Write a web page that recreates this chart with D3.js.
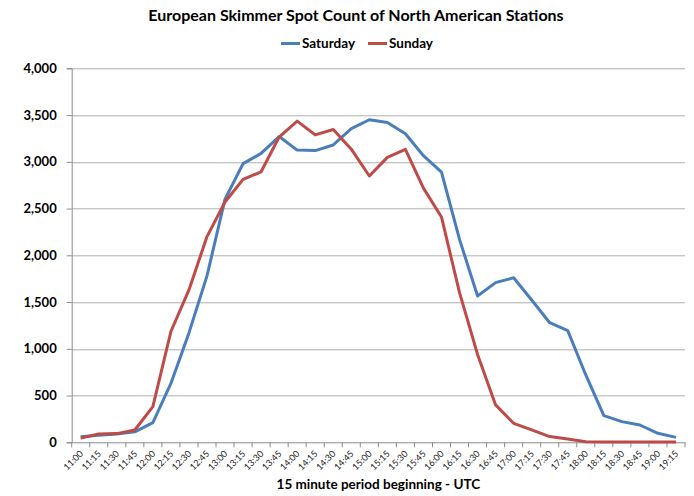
<!DOCTYPE html>
<html>
<head>
<meta charset="utf-8">
<script src="https://cdn.jsdelivr.net/npm/d3@7"></script>
<style>
  body { margin: 0; background: #fff; }
  svg { font-family: Lato, "Open Sans", sans-serif; }
</style>
</head>
<body>
<svg id="chart" width="694" height="496"></svg>
<script>
var times = ["11:00","11:15","11:30","11:45","12:00","12:15","12:30","12:45",
             "13:00","13:15","13:30","13:45","14:00","14:15","14:30","14:45",
             "15:00","15:15","15:30","15:45","16:00","16:15","16:30","16:45",
             "17:00","17:15","17:30","17:45","18:00","18:15","18:30","18:45",
             "19:00","19:15"];
var saturday = [60,75,90,112,210,630,1170,1780,2600,2980,3090,3270,3125,3120,3180,3355,
                3450,3420,3300,3065,2890,2170,1565,1708,1760,1522,1279,1194,720,285,
                221,185,96,53];
var sunday = [45,89,93,132,381,1185,1630,2200,2570,2812,2893,3265,3435,3288,3345,3135,
              2848,3047,3133,2718,2410,1600,940,400,203,132,61,36,7,4,
              4,4,3,2];
var yTicks = [0,500,1000,1500,2000,2500,3000,3500,4000];
var seriesNames = ["Saturday","Sunday"];
var colors = ["#4a7ebb","#be4b48"];

function chart() {
  var svg = d3.select("#chart"),
      margin = {top: 68.3, right: 9, bottom: 53.7, left: 71.7},
      width = svg.attr("width") - margin.left - margin.right,
      height = svg.attr("height") - margin.top - margin.bottom,
      g = svg.append("g").attr("transform", "translate(" + margin.left + "," + margin.top + ")");

  var x = d3.scaleBand().domain(times).range([0, width]).padding(0),
      y = d3.scaleLinear().domain([0, 4000]).range([height, 0]);

  // gridlines
  g.append("g").selectAll("line")
    .data(yTicks.slice(1))
    .enter().append("line")
    .attr("x1", 0).attr("x2", width)
    .attr("y1", d => Math.round(y(d)) + 0.5).attr("y2", d => Math.round(y(d)) + 0.5)
    .attr("stroke", "#b0b0b0").attr("stroke-width", 1);

  // y axis
  var yAxis = g.append("g")
    .call(d3.axisLeft(y).tickValues(yTicks).tickFormat(d3.format(",")).tickSize(5).tickPadding(10));
  yAxis.select(".domain").attr("stroke", "#8c8c8c");
  yAxis.selectAll(".tick line").attr("stroke", "#8c8c8c");
  yAxis.selectAll("text")
    .style("font-size", "13px").style("font-weight", "bold").attr("fill", "#000")
    .style("font-family", "Lato");

  // x axis: labels at category centers, tick marks between categories
  var xAxis = g.append("g")
    .attr("transform", "translate(0," + height + ")")
    .call(d3.axisBottom(x).tickSize(0).tickPadding(0));
  xAxis.select(".domain").attr("stroke", "#8c8c8c");
  xAxis.selectAll("text")
    .attr("text-anchor", "end")
    .attr("dy", null)
    .attr("transform", "translate(3,12) rotate(-45)")
    .style("font-size", "9px").attr("fill", "#222")
    .style("font-family", "Lato");

  g.append("g").selectAll("line")
    .data(times.concat(["end"]))
    .enter().append("line")
    .attr("x1", (d, i) => i < times.length ? x(d) : width)
    .attr("x2", (d, i) => i < times.length ? x(d) : width)
    .attr("y1", height).attr("y2", height + 5)
    .attr("stroke", "#8c8c8c");

  // lines
  var line = d3.line()
    .x((d, i) => x(times[i]) + x.bandwidth() / 2)
    .y(d => y(d));

  [saturday, sunday].forEach(function(s, k) {
    g.append("path")
      .datum(s)
      .attr("fill", "none")
      .attr("stroke", colors[k])
      .attr("stroke-width", 3)
      .attr("stroke-linejoin", "round")
      .attr("d", line);
  });

  // title
  svg.append("text")
    .attr("x", 356)
    .attr("y", 21)
    .attr("text-anchor", "middle")
    .style("font-family", "Lato")
    .style("font-weight", "bold")
    .style("font-size", "16px")
    .text("European Skimmer Spot Count of North American Stations");

  // legend
  var legendX = [281, 368];
  seriesNames.forEach(function(name, k) {
    svg.append("line")
      .attr("x1", legendX[k]).attr("x2", legendX[k] + 19)
      .attr("y1", 43.5).attr("y2", 43.5)
      .attr("stroke", colors[k]).attr("stroke-width", 3);
    svg.append("text")
      .attr("x", legendX[k] + 21)
      .attr("y", 48)
      .style("font-family", "Lato")
      .style("font-weight", "bold")
      .style("font-size", "13.5px")
      .text(name);
  });

  // x axis title
  svg.append("text")
    .attr("x", margin.left + width / 2)
    .attr("y", 489)
    .attr("text-anchor", "middle")
    .style("font-family", "Lato")
    .style("font-weight", "bold")
    .style("font-size", "13.5px")
    .text("15 minute period beginning - UTC");
}

chart();
</script>
</body>
</html>
